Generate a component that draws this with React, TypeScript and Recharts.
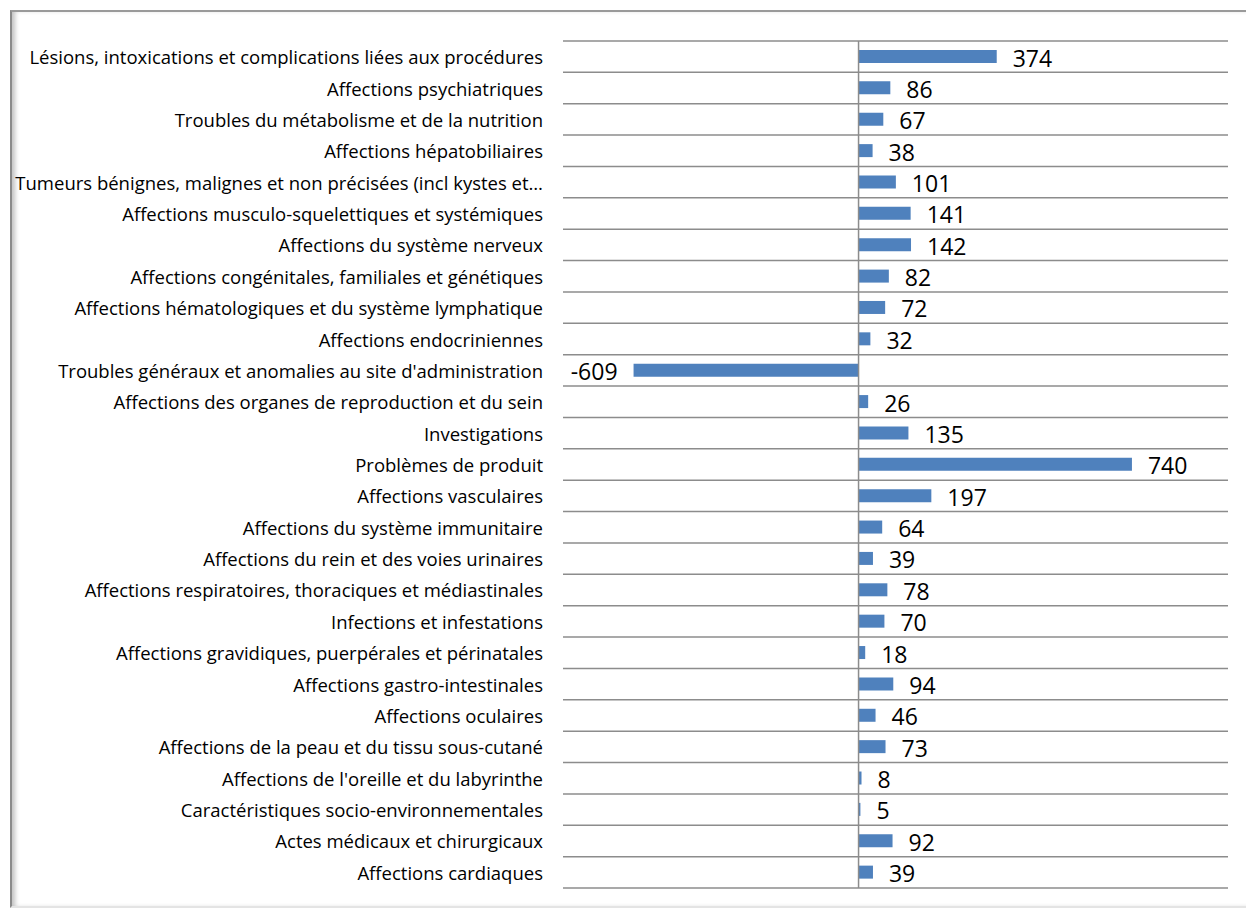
import { Bar, BarChart, CartesianGrid, LabelList, ReferenceLine, XAxis, YAxis } from "recharts";

const categories = [
  "Lésions, intoxications et complications liées aux procédures",
  "Affections psychiatriques",
  "Troubles du métabolisme et de la nutrition",
  "Affections hépatobiliaires",
  "Tumeurs bénignes, malignes et non précisées (incl kystes et…",
  "Affections musculo-squelettiques et systémiques",
  "Affections du système nerveux",
  "Affections congénitales, familiales et génétiques",
  "Affections hématologiques et du système lymphatique",
  "Affections endocriniennes",
  "Troubles généraux et anomalies au site d'administration",
  "Affections des organes de reproduction et du sein",
  "Investigations",
  "Problèmes de produit",
  "Affections vasculaires",
  "Affections du système immunitaire",
  "Affections du rein et des voies urinaires",
  "Affections respiratoires, thoraciques et médiastinales",
  "Infections et infestations",
  "Affections gravidiques, puerpérales et périnatales",
  "Affections gastro-intestinales",
  "Affections oculaires",
  "Affections de la peau et du tissu sous-cutané",
  "Affections de l'oreille et du labyrinthe",
  "Caractéristiques socio-environnementales",
  "Actes médicaux et chirurgicaux",
  "Affections cardiaques",
];

const values = [
  374, 86, 67, 38, 101, 141, 142, 82, 72, 32, -609, 26, 135, 740, 197, 64, 39,
  78, 70, 18, 94, 46, 73, 8, 5, 92, 39,
];

const data = categories.map((name, i) => ({ name, value: values[i] }));

const ValueLabel = (props: any) => {
  const { x, y, width, height, value } = props;
  const end = x + width;
  const neg = value < 0;
  return (
    <text
      x={neg ? Math.min(x, end) - 16 : Math.max(x, end) + 16}
      y={y + height / 2 + 1}
      textAnchor={neg ? "end" : "start"}
      dominantBaseline="central"
      fontSize={23}
      fontFamily="'Open Sans', sans-serif"
      fill="#000"
    >
      {value}
    </text>
  );
};

const CatTick = (props: any) => {
  const { x, y, payload } = props;
  return (
    <text
      x={x}
      y={y}
      textAnchor="end"
      dominantBaseline="central"
      fontSize={18.5}
      fontFamily="'Open Sans', sans-serif"
      fill="#000"
    >
      {payload.value}
    </text>
  );
};

export default function App() {
  return (
    <div style={{ position: "absolute", left: 0, top: 0, width: 1246, height: 910, background: "#fff" }}>
      <div
        style={{
          position: "absolute",
          left: 10,
          top: 10,
          width: 1234,
          height: 894,
          borderTop: "2px solid #9a9a9a",
          borderLeft: "2px solid #8a8a8a",
          borderRight: "1px solid #eee",
          borderBottom: "2px solid #e4e4e4",
          boxShadow: "inset 5px 0 5px -2px rgba(0,0,0,0.25)",
        }}
      />
      <div style={{ position: "absolute", left: 0, top: 0 }}>
        <BarChart
          width={1246}
          height={910}
          data={data}
          layout="vertical"
          margin={{ top: 41, right: 18, bottom: 22, left: 0 }}
          barSize={13}
        >
          <CartesianGrid
            vertical={false}
            stroke="#8c8c8c"
            strokeWidth={1.5}
            horizontalCoordinatesGenerator={({ offset }: any) =>
              categories.map((_, i) => offset.top + (i * offset.height) / categories.length).concat(offset.top + offset.height)
            }
          />
          <XAxis type="number" domain={[-800, 1000]} hide />
          <YAxis
            type="category"
            dataKey="name"
            width={563}
            axisLine={false}
            tickLine={false}
            tickMargin={14}
            interval={0}
            tick={<CatTick />}
          />
          <ReferenceLine x={0} stroke="#8c8c8c" strokeWidth={1.5} />
          <Bar dataKey="value" fill="#4f81bd" isAnimationActive={false}>
            <LabelList dataKey="value" content={<ValueLabel />} />
          </Bar>
        </BarChart>
      </div>
    </div>
  );
}
